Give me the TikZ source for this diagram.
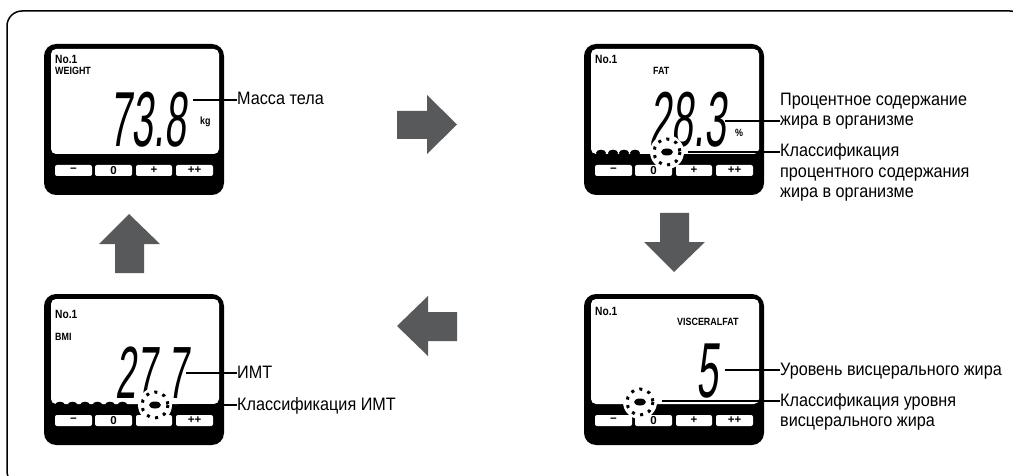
\documentclass[tikz,border=0pt]{standalone}
\usepackage{fontspec}
\setmainfont{Liberation Sans}
\newfontfamily\lblfont[FakeStretch=0.9]{Liberation Sans}
\newfontfamily\lcdfont[FakeStretch=0.5,FakeSlant=0.1]{Liberation Sans}
\newfontfamily\tagfont[FakeStretch=0.85]{Liberation Sans}
\definecolor{arrowgrey}{HTML}{58595B}
\newcommand\lcdpanel[3]{%
  \begin{scope}[shift={(#2,#3)}]
    \path[panelbody] (0,0) rectangle (180,151);
    \path[panelscreen] (7,5) rectangle (175,110);
    \path[panelbtn] (11,121) rectangle (48,132);
    \path[panelbtn] (51,121) rectangle (88,132);
    \path[panelbtn] (92,121) rectangle (128,132);
    \path[panelbtn] (132,121) rectangle (169,132);
    \node[btntxt] (#1b1) at (29.5,126.5) {\textbf{−}};
    \node[btntxt] (#1b2) at (69.5,126.5) {0};
    \node[btntxt] (#1b3) at (110,126.5) {+};
    \node[btntxt] (#1b4) at (150.5,126.5) {++};
  \end{scope}}
\newcommand\dashring[1]{%
  \fill[white] (#1) circle (17);
  \draw[line width=3pt, dash pattern=on 3pt off 5.6pt] (#1) circle (13);
  \fill (#1) ellipse (6 and 3.5);}
\begin{document}
\begin{tikzpicture}[x=1pt,y=-1pt,
  lbl/.style={font=\lblfont\fontsize{18}{20.5}\selectfont, align=left, inner sep=0pt, anchor=base west},
  leader/.style={line width=2pt},
  panelbody/.style={fill=black, rounded corners=12pt},
  panelscreen/.style={fill=white, rounded corners=5pt},
  panelbtn/.style={fill=white, rounded corners=2pt},
  btntxt/.style={font=\fontsize{11.5}{11.5}\selectfont\bfseries, inner sep=0pt},
  tagtxt/.style={font=\tagfont\fontsize{10.5}{10.5}\selectfont\bfseries, inner sep=0pt, anchor=base west},
  notxt/.style={font=\tagfont\fontsize{12}{12}\selectfont\bfseries, inner sep=0pt, anchor=base west},
  digits/.style={font=\lcdfont\fontsize{78}{78}\selectfont, inner sep=0pt, anchor=base east},
  bigarrow/.style={fill=arrowgrey},
  lcddot/.style={fill=black}]
\useasboundingbox (0,0) rectangle (1013,476);
\begin{scope}
\clip (0,0) rectangle (1013,476);
\draw[line width=1.5pt, rounded corners=15pt] (7,11) rectangle (1025,486);
\end{scope}

% panels
\lcdpanel{tl}{44}{44}
\lcdpanel{tr}{584}{44}
\lcdpanel{bl}{44}{294}
\lcdpanel{br}{584}{294}

% top-left: weight
\node[notxt] (tlno) at (55,64) {No.1};
\node[tagtxt] (tltag) at (55,75) {WEIGHT};
\node[digits] (tldig) at (186,147) {73.8};
\node[tagtxt] (tlunit) at (200,125) {kg};
\coordinate (tlc1) at (193,100);
\node[lbl] (masslbl) at (237,105) {Масса тела};
\draw[leader] (tlc1) -- (tlc1 -| masslbl.west);

% top-right: fat
\node[notxt] (trno) at (595,64) {No.1};
\node[tagtxt] (trtag) at (653,75) {FAT};
\node[digits] (trdig) at (726,147) {28.3};
\node[tagtxt] (trunit) at (735,137) {\%};
\foreach \x in {601,613,624,635} \fill[lcddot] (\x,153) ellipse (5 and 3.3);
\coordinate (trring) at (667,152);
\dashring{trring}
\coordinate (trc1) at (725,121);
\coordinate (trc2) at (688,152);
\node[lbl] (fatlbl) at (780,126) {Процентное содержание\\жира в организме};
\node[lbl] (fatcls) at (780,198) {Классификация\\процентного содержания\\жира в организме};
\draw[leader] (trc1) -- (trc1 -| fatlbl.west);
\draw[leader] (trc2) -- (trc2 -| fatcls.west);

% bottom-left: BMI
\node[notxt] (blno) at (55,318) {No.1};
\node[tagtxt] (bltag) at (55,340) {BMI};
\node[digits, font=\lcdfont\fontsize{74}{74}\selectfont] (bldig) at (188,398) {27.7};
\foreach \x in {60,72.5,85,97.5,110,122.5} \fill[lcddot] (\x,405) ellipse (5 and 3.3);
\coordinate (blring) at (155,405);
\dashring{blring}
\coordinate (blc1) at (186,373);
\coordinate (blc2) at (178,405);
\node[lbl] (bmilbl) at (237,378) {ИМТ};
\node[lbl] (bmicls) at (237,410) {Классификация ИМТ};
\draw[leader] (blc1) -- (blc1 -| bmilbl.west);
\draw[leader] (blc2) -- (blc2 -| bmicls.west);

% bottom-right: visceral fat
\node[notxt] (brno) at (595,315) {No.1};
\node[tagtxt] (brtag) at (677,325) {VISCERALFAT};
\node[digits] (brdig) at (718,397) {5};
\coordinate (brring) at (640,402);
\dashring{brring}
\coordinate (brc1) at (725,370);
\coordinate (brc2) at (662,401);
\node[lbl] (visclbl) at (780,375) {Уровень висцерального жира};
\node[lbl] (visccls) at (780,426.5) {Классификация уровня\\висцерального жира};
\draw[leader] (brc1) -- (brc1 -| visclbl.west);
\draw[leader] (brc2) -- (brc2 -| visccls.west);

% arrows
\fill[bigarrow] (397,111) -- (427,111) -- (427,95) -- (457,124.5) -- (427,154) -- (427,139) -- (397,139) -- cycle;
\fill[bigarrow] (660,213) -- (689,213) -- (689,242) -- (705,242) -- (674,272) -- (644,242) -- (660,242) -- cycle;
\fill[bigarrow] (457,312) -- (428,312) -- (428,296) -- (397,326) -- (428,356) -- (428,341) -- (457,341) -- cycle;
\fill[bigarrow] (115,273) -- (115,244) -- (99,244) -- (129,214) -- (160,244) -- (144,244) -- (144,273) -- cycle;
\end{tikzpicture}
\end{document}
